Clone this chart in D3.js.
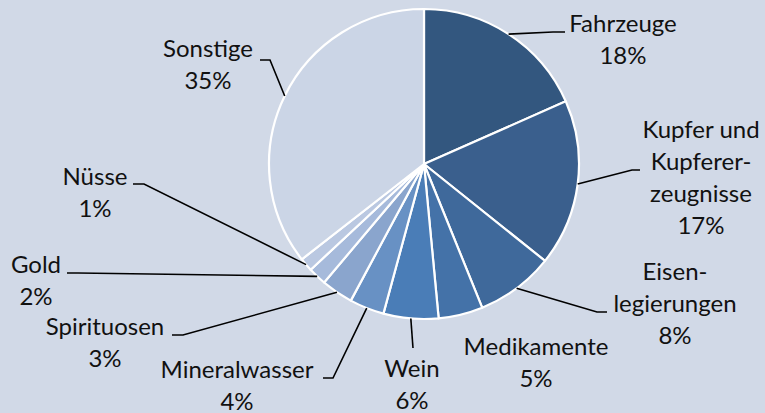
<!DOCTYPE html>
<meta charset="utf-8">
<script src="https://d3js.org/d3.v7.min.js"></script>
<style>
  body { margin: 0; background: #d1d9e7; }
  .lbl { font-family: Lato, "Open Sans", sans-serif; font-size: 24px; fill: #111; }
</style>
<div id="chart"></div>
<script>
  // categories, clockwise from 12 o'clock
  var categories = ['Fahrzeuge', 'Kupfer und Kupfererzeugnisse', 'Eisenlegierungen', 'Medikamente',
                    'Wein', 'Mineralwasser', 'Spirituosen', 'Gold', 'Nüsse', 'Sonstige'];
  // share in percent
  var shares = [18.3, 17.3, 8.1, 4.6, 5.7, 3.6, 3.3, 1.9, 1.4, 35.4];
  // label text as printed
  var labelLines = [
    ['Fahrzeuge', '18%'],
    ['Kupfer und', 'Kupferer-', 'zeugnisse', '17%'],
    ['Eisen-', 'legierungen', '8%'],
    ['Medikamente', '5%'],
    ['Wein', '6%'],
    ['Mineralwasser', '4%'],
    ['Spirituosen', '3%'],
    ['Gold', '2%'],
    ['Nüsse', '1%'],
    ['Sonstige', '35%']
  ];
  var colors = ['#33577f', '#3a5f8d', '#3f699b', '#4472a8', '#4a7db7',
                '#6891c4', '#8aa5cd', '#a6badb', '#bac8e1', '#cbd5e6'];

  var width = 765, height = 413;
  var cx = 424, cy = 164, radius = 155;

  // label layout: centre x, first baseline y, elbow point, end of horizontal stub
  var labelPos = [
    {x: 623, y: 32,  elbow: [553, 32],  end: [565, 32]},
    {x: 701, y: 138, elbow: [632, 170], end: [640, 170]},
    {x: 675, y: 280, elbow: [597, 312], end: [607, 312]},
    {x: 536, y: 355, elbow: null,       end: null},
    {x: 412, y: 377, elbow: [413, 348], end: [413, 348]},
    {x: 237, y: 378, elbow: [333, 378], end: [323, 378]},
    {x: 105, y: 335, elbow: [183, 335], end: [172, 335]},
    {x: 36,  y: 273, elbow: [78, 273],  end: [67, 273]},
    {x: 95,  y: 185, elbow: [144, 184], end: [133, 184]},
    {x: 208, y: 57,  elbow: [270, 60],  end: [260, 60]}
  ];
  var lineGap = 32;

  var svg = d3.select('#chart').append('svg')
      .attr('width', width)
      .attr('height', height);

  var g = svg.append('g')
      .attr('transform', 'translate(' + cx + ',' + cy + ')');

  var pie = d3.pie().sort(null).value(function(d) { return d; });
  var arcs = pie(shares);

  var arc = d3.arc().innerRadius(0).outerRadius(radius);

  g.selectAll('path.slice')
    .data(arcs)
    .enter()
    .append('path')
      .attr('class', 'slice')
      .attr('d', arc)
      .attr('fill', function(d, i) { return colors[i]; })
      .attr('stroke', '#fff')
      .attr('stroke-width', 2.2)
      .attr('stroke-linejoin', 'round');

  // leader lines, start on the rim at the mid angle of the slice
  arcs.forEach(function(d, i) {
    var p = labelPos[i];
    if (!p.elbow) return;
    var a = (d.startAngle + d.endAngle) / 2;
    var sx = cx + radius * Math.sin(a), sy = cy - radius * Math.cos(a);
    svg.append('polyline')
      .attr('points', [[sx, sy], p.elbow, p.end].map(function(q) { return q.join(','); }).join(' '))
      .attr('fill', 'none')
      .attr('stroke', '#000')
      .attr('stroke-width', 1.6);
  });

  var labels = svg.selectAll('text.lbl')
    .data(labelLines)
    .enter()
    .append('text')
      .attr('class', 'lbl')
      .attr('text-anchor', 'middle');

  labels.each(function(lines, i) {
    var t = d3.select(this);
    lines.forEach(function(s, k) {
      t.append('tspan')
        .attr('x', labelPos[i].x)
        .attr('y', labelPos[i].y + k * lineGap)
        .text(s);
    });
  });
</script>
